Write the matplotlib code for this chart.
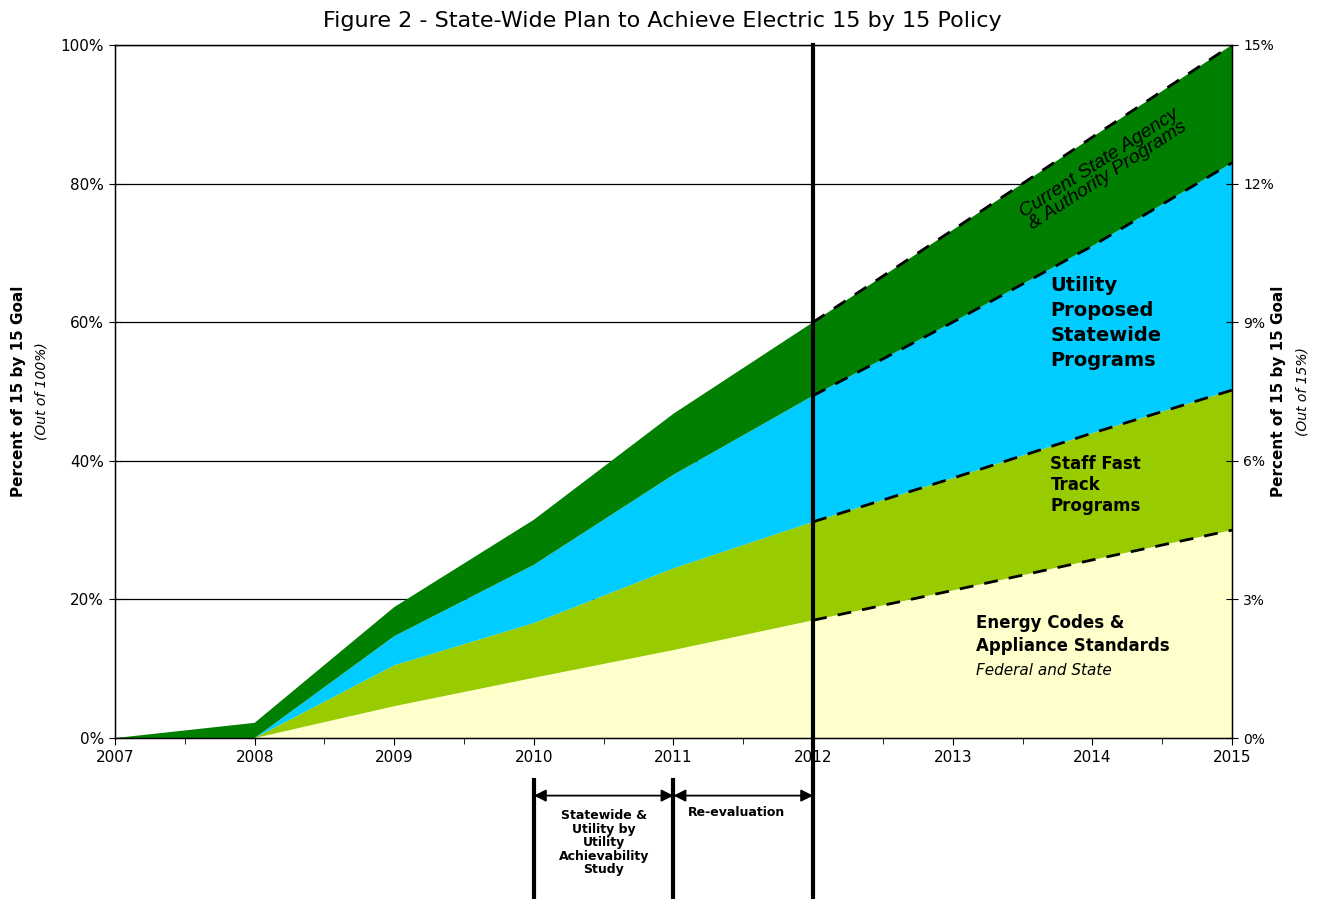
import matplotlib.pyplot as plt
from matplotlib.ticker import FuncFormatter, MultipleLocator

years = [2007, 2008, 2009, 2010, 2011, 2012, 2013, 2014, 2015]
codes = [0, 0, 4.6, 8.7, 12.7, 17.0, 21.3, 25.7, 30.0]
staff = [0, 0, 5.9, 7.9, 11.8, 14.2, 16.2, 18.3, 20.2]
utility = [0, 0, 4.2, 8.4, 13.5, 18.2, 22.5, 27.0, 32.8]
agency = [0, 2.2, 4.2, 6.5, 8.8, 10.6, 13.3, 15.7, 17.0]

colors = ["#FFFFCC", "#99CC00", "#00CCFF", "#007F00"]

fig = plt.figure(figsize=(13.25, 8.99), dpi=100)
ax = fig.add_axes([0.0868, 0.179, 0.843, 0.771])

ax.stackplot(years, codes, staff, utility, agency, colors=colors, linewidth=0)

# cumulative boundaries, dashed after 2012
tops = []
run = [0] * len(years)
for s in (codes, staff, utility, agency):
    run = [a + b for a, b in zip(run, s)]
    tops.append(run)
i0 = years.index(2012)
for t in tops:
    ax.plot(years[i0:], t[i0:], color="black", ls=(0, (5, 4)), lw=2)

ax.set_xlim(2007, 2015)
ax.set_ylim(0, 100)
ax.yaxis.set_major_locator(MultipleLocator(20))
ax.yaxis.set_major_formatter(FuncFormatter(lambda v, p: "%d%%" % v))
ax.xaxis.set_major_locator(MultipleLocator(1))
ax.xaxis.set_minor_locator(MultipleLocator(0.5))
ax.grid(axis="y", color="black", lw=0.9)
ax.set_axisbelow(True)
ax.tick_params(axis="x", labelsize=11, direction="out", length=5)
ax.tick_params(axis="x", which="minor", direction="out", length=4)
ax.tick_params(axis="y", labelsize=11, direction="inout", length=9)
for sp in ax.spines.values():
    sp.set_linewidth(1)

ax2 = ax.twinx()
ax2.set_ylim(0, 15)
ax2.yaxis.set_major_locator(MultipleLocator(3))
ax2.yaxis.set_major_formatter(FuncFormatter(lambda v, p: "%d%%" % v))
ax2.tick_params(labelsize=10, direction="inout", length=9)

fig.suptitle("Figure 2 - State-Wide Plan to Achieve Electric 15 by 15 Policy",
             fontsize=16, y=0.988)

fig.text(0.014, 0.565, "Percent of 15 by 15 Goal", rotation=90, fontsize=11,
         fontweight="bold", va="center", ha="center")
fig.text(0.031, 0.565, "(Out of 100%)", rotation=90, fontsize=10,
         style="italic", va="center", ha="center")
fig.text(0.965, 0.565, "Percent of 15 by 15 Goal", rotation=90, fontsize=11,
         fontweight="bold", va="center", ha="center")
fig.text(0.983, 0.565, "(Out of 15%)", rotation=90, fontsize=10,
         style="italic", va="center", ha="center")

# area labels
ax.text(2014.08, 82.0, "Current State Agency\n& Authority Programs", rotation=33,
        fontsize=14, style="italic", ha="center", va="center",
        family=["Liberation Sans Narrow", "Liberation Sans"], linespacing=0.85)
ax.text(2013.7, 59.9, "Utility\nProposed\nStatewide\nPrograms", fontsize=14,
        fontweight="bold", ha="left", va="center", linespacing=1.4)
ax.text(2013.7, 36.5, "Staff Fast\nTrack\nPrograms", fontsize=12,
        fontweight="bold", ha="left", va="center", linespacing=1.2)
ax.text(2013.17, 15.0, "Energy Codes &\nAppliance Standards", fontsize=12,
        fontweight="bold", ha="left", va="center", linespacing=1.35)
ax.text(2013.17, 9.8, "Federal and State", fontsize=11, style="italic",
        ha="left", va="center")

# 2012 marker and study timeline below axis
ax.plot([2012, 2012], [-23.3, 100], color="black", lw=3, clip_on=False)
for x in (2010, 2011):
    ax.plot([x, x], [-6.0, -23.3], color="black", lw=3, clip_on=False)
for a, b in ((2010, 2011), (2011, 2012)):
    ax.annotate("", xy=(b, -8.3), xytext=(a, -8.3), annotation_clip=False,
                arrowprops=dict(arrowstyle="<|-|>", color="black", lw=1.3,
                                shrinkA=0, shrinkB=0, mutation_scale=18))
ax.text(2010.5, -10.3, "Statewide &\nUtility by\nUtility\nAchievability\nStudy",
        fontsize=9, fontweight="bold", ha="center", va="top", linespacing=1.05)
ax.text(2011.45, -10.8, "Re-evaluation", fontsize=9, fontweight="bold",
        ha="center", va="center")

fig.savefig("out.png", dpi=100)
